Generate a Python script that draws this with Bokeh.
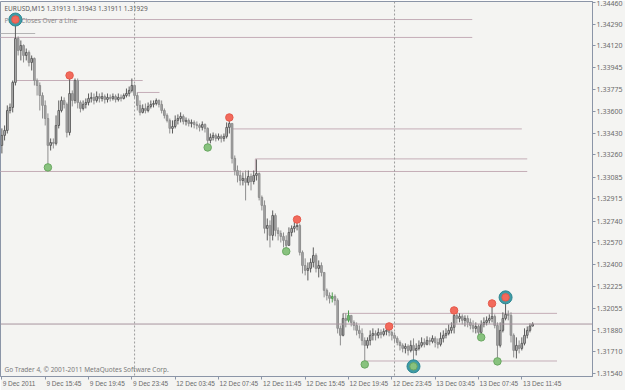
from bokeh.plotting import figure
from bokeh.models import (Range1d, FixedTicker, Span, Label, ColumnDataSource,
                          CustomJSTickFormatter, AllLabels)
from bokeh.embed import file_html
from bokeh.resources import INLINE

# ---------------- data (EURUSD M15, bar index 0 = 9 Dec 2011 11:45) ----------------
OPEN0 = 1.33335
CLOSE = [
    1.33414, 1.33453, 1.33610, 1.33634, 1.33831, 1.34177, 1.34083, 1.34122, 1.34043, 1.34067,
    1.33988, 1.34020, 1.33846, 1.33807, 1.33728, 1.33650, 1.33547, 1.33335, 1.33358, 1.33351,
    1.33492, 1.33610, 1.33689, 1.33658, 1.33437, 1.33744, 1.33689, 1.33846, 1.33673, 1.33626,
    1.33658, 1.33673, 1.33705, 1.33713, 1.33689, 1.33720, 1.33705, 1.33720, 1.33697, 1.33713,
    1.33705, 1.33720, 1.33697, 1.33713, 1.33705, 1.33728, 1.33744, 1.33768, 1.33807, 1.33728,
    1.33650, 1.33595, 1.33626, 1.33610, 1.33642, 1.33658, 1.33665, 1.33689, 1.33658, 1.33610,
    1.33571, 1.33532, 1.33469, 1.33484, 1.33532, 1.33547, 1.33563, 1.33524, 1.33532, 1.33508,
    1.33516, 1.33500, 1.33492, 1.33477, 1.33500, 1.33469, 1.33374, 1.33398, 1.33414, 1.33390,
    1.33406, 1.33390, 1.33406, 1.33477, 1.33508, 1.33233, 1.33138, 1.33099, 1.33059, 1.33075,
    1.33044, 1.33091, 1.33051, 1.33099, 1.33114, 1.32926, 1.32863, 1.32682, 1.32705, 1.32627,
    1.32784, 1.32666, 1.32642, 1.32619, 1.32587, 1.32548, 1.32650, 1.32682, 1.32697, 1.32705,
    1.32493, 1.32390, 1.32351, 1.32367, 1.32414, 1.32469, 1.32367, 1.32390, 1.32335, 1.32194,
    1.32154, 1.32131, 1.32146, 1.32115, 1.31895, 1.31840, 1.31973, 1.31958, 1.31997, 1.31942,
    1.31918, 1.31879, 1.31855, 1.31800, 1.31761, 1.31800, 1.31840, 1.31855, 1.31840, 1.31863,
    1.31847, 1.31871, 1.31879, 1.31863, 1.31840, 1.31816, 1.31784, 1.31761, 1.31737, 1.31753,
    1.31721, 1.31761, 1.31721, 1.31737, 1.31761, 1.31784, 1.31769, 1.31800, 1.31792, 1.31816,
    1.31784, 1.31769, 1.31816, 1.31840, 1.31855, 1.31879, 1.31903, 1.31997, 1.31973, 1.31989,
    1.31958, 1.31973, 1.31942, 1.31918, 1.31895, 1.31910, 1.31863, 1.31926, 1.31942, 1.31958,
    1.31973, 1.31989, 1.31918, 1.31761, 1.31879, 1.31973, 1.32005, 1.31997, 1.31840, 1.31721,
    1.31761, 1.31737, 1.31777, 1.31840, 1.31879, 1.31913, 1.31929,
]
HIGH = [
    1.33469, 1.33492, 1.33650, 1.33665, 1.33846, 1.34326, 1.34193, 1.34161, 1.34130, 1.34098,
    1.34083, 1.34043, 1.34027, 1.33862, 1.33831, 1.33752, 1.33689, 1.33587, 1.33390, 1.33390,
    1.33571, 1.33689, 1.33720, 1.33713, 1.33673, 1.33886, 1.33768, 1.33862, 1.33862, 1.33689,
    1.33689, 1.33705, 1.33744, 1.33752, 1.33744, 1.33760, 1.33744, 1.33752, 1.33736, 1.33744,
    1.33736, 1.33744, 1.33736, 1.33744, 1.33736, 1.33744, 1.33783, 1.33799, 1.33862, 1.33815,
    1.33752, 1.33689, 1.33658, 1.33665, 1.33673, 1.33689, 1.33689, 1.33705, 1.33697, 1.33689,
    1.33626, 1.33587, 1.33547, 1.33532, 1.33571, 1.33579, 1.33595, 1.33579, 1.33555, 1.33547,
    1.33539, 1.33532, 1.33524, 1.33508, 1.33524, 1.33508, 1.33477, 1.33429, 1.33437, 1.33429,
    1.33429, 1.33421, 1.33429, 1.33516, 1.33555, 1.33508, 1.33256, 1.33177, 1.33138, 1.33122,
    1.33138, 1.33138, 1.33114, 1.33138, 1.33225, 1.33122, 1.32941, 1.32902, 1.32760, 1.32745,
    1.32823, 1.32800, 1.32690, 1.32666, 1.32650, 1.32627, 1.32690, 1.32705, 1.32737, 1.32752,
    1.32721, 1.32508, 1.32446, 1.32414, 1.32446, 1.32532, 1.32485, 1.32430, 1.32414, 1.32335,
    1.32209, 1.32178, 1.32178, 1.32162, 1.32131, 1.31918, 1.32013, 1.32013, 1.32036, 1.31997,
    1.31958, 1.31942, 1.31918, 1.31895, 1.31824, 1.31824, 1.31879, 1.31895, 1.31879, 1.31895,
    1.31887, 1.31895, 1.31903, 1.31910, 1.31879, 1.31863, 1.31832, 1.31800, 1.31777, 1.31777,
    1.31769, 1.31800, 1.31816, 1.31777, 1.31800, 1.31824, 1.31816, 1.31832, 1.31824, 1.31840,
    1.31832, 1.31816, 1.31863, 1.31879, 1.31895, 1.31926, 1.31942, 1.32036, 1.32013, 1.32013,
    1.32005, 1.31997, 1.31997, 1.31973, 1.31958, 1.31942, 1.31926, 1.31958, 1.31981, 1.31989,
    1.32005, 1.32091, 1.32005, 1.31942, 1.31942, 1.32021, 1.32139, 1.32036, 1.32021, 1.31855,
    1.31824, 1.31800, 1.31824, 1.31895, 1.31910, 1.31934, 1.31943,
]
LOW = [
    1.33272, 1.33374, 1.33429, 1.33587, 1.33595, 1.33807, 1.34043, 1.34004, 1.33988, 1.34004,
    1.33957, 1.33925, 1.33807, 1.33728, 1.33610, 1.33547, 1.33492, 1.33162, 1.33295, 1.33311,
    1.33335, 1.33469, 1.33595, 1.33626, 1.33398, 1.33414, 1.33642, 1.33665, 1.33626, 1.33595,
    1.33610, 1.33626, 1.33650, 1.33673, 1.33658, 1.33673, 1.33673, 1.33681, 1.33665, 1.33673,
    1.33681, 1.33689, 1.33673, 1.33681, 1.33681, 1.33697, 1.33713, 1.33720, 1.33752, 1.33705,
    1.33610, 1.33571, 1.33587, 1.33587, 1.33595, 1.33626, 1.33634, 1.33650, 1.33634, 1.33587,
    1.33547, 1.33516, 1.33429, 1.33429, 1.33469, 1.33500, 1.33516, 1.33500, 1.33492, 1.33484,
    1.33477, 1.33469, 1.33461, 1.33445, 1.33453, 1.33437, 1.33319, 1.33351, 1.33374, 1.33366,
    1.33374, 1.33358, 1.33366, 1.33390, 1.33429, 1.33193, 1.33099, 1.33044, 1.33020, 1.33020,
    1.32902, 1.33020, 1.32981, 1.33028, 1.33059, 1.32902, 1.32823, 1.32642, 1.32587, 1.32532,
    1.32587, 1.32619, 1.32587, 1.32571, 1.32532, 1.32501, 1.32548, 1.32619, 1.32650, 1.32666,
    1.32469, 1.32327, 1.32312, 1.32272, 1.32335, 1.32375, 1.32335, 1.32296, 1.32304, 1.32139,
    1.32115, 1.32091, 1.32099, 1.32076, 1.31855, 1.31761, 1.31832, 1.31903, 1.31942, 1.31910,
    1.31879, 1.31840, 1.31816, 1.31761, 1.31611, 1.31737, 1.31761, 1.31800, 1.31800, 1.31816,
    1.31816, 1.31832, 1.31840, 1.31832, 1.31800, 1.31784, 1.31761, 1.31721, 1.31706, 1.31698,
    1.31682, 1.31706, 1.31596, 1.31682, 1.31721, 1.31745, 1.31745, 1.31761, 1.31761, 1.31777,
    1.31745, 1.31737, 1.31753, 1.31784, 1.31816, 1.31840, 1.31855, 1.31855, 1.31934, 1.31942,
    1.31926, 1.31910, 1.31903, 1.31887, 1.31863, 1.31855, 1.31847, 1.31824, 1.31903, 1.31918,
    1.31934, 1.31942, 1.31895, 1.31635, 1.31745, 1.31863, 1.31958, 1.31958, 1.31784, 1.31666,
    1.31658, 1.31698, 1.31721, 1.31761, 1.31816, 1.31863, 1.31911,
]
LAST_PRICE = 1.31929

# fractal-style markers (bar indices)
HIGH_MARK_IDX = [5, 25, 84, 109, 143, 167, 181, 186]
LOW_MARK_IDX = [17, 76, 105, 134, 152, 177, 183]
BIG_HIGH_IDX = [5, 186]
BIG_LOW_IDX = [152]
GREEN_BAR_IDX = [122, 128]

# horizontal level lines: price, first bar, last bar
LEVEL_PRICE = [1.34326, 1.34185, 1.33846, 1.33752, 1.33465, 1.33229, 1.33130, 1.32013, 1.31638]
LEVEL_FROM = [6, -1, 5, 50, 84.6, 93.6, -1, 126, 134]
LEVEL_TO = [173.7, 173.7, 52, 58.2, 192, 194, 194, 205, 205]
SHORT_LEVEL = (1.34216, -1, 12.3)
CONNECTOR = (93.6, 1.33229, 1.33130)

DAY_SEPARATORS = [49, 145]

Y_TICKS = [1.34460, 1.34290, 1.34120, 1.33945, 1.33775, 1.33600, 1.33430, 1.33260, 1.33085,
           1.32915, 1.32740, 1.32570, 1.32400, 1.32225, 1.32055, 1.31880, 1.31710, 1.31540]
X_TICK_IDX = [0, 16, 32, 48, 64, 80, 96, 112, 128, 144, 160, 176, 192]
X_TICK_LABELS = ["9 Dec 2011", "9 Dec 15:45", "9 Dec 19:45", "9 Dec 23:45", "12 Dec 03:45",
                 "12 Dec 07:45", "12 Dec 11:45", "12 Dec 15:45", "12 Dec 19:45", "12 Dec 23:45",
                 "13 Dec 03:45", "13 Dec 07:45", "13 Dec 11:45"]

# ---------------- figure ----------------
BG = "#f4f4f2"
FONT = "Noto Sans"
DATE_FONT = "Liberation Sans"
AXIS_COL = "#8b95a7"
TXT = "#6a6a6a"

W, H = 625, 390
FRAME_W = 596
X_LO, X_HI = -0.51, 218.1
Y_LO, Y_HI = 1.31516, 1.34468

p = figure(width=W, height=H, x_range=Range1d(X_LO, X_HI), y_range=Range1d(Y_LO, Y_HI),
           output_backend="svg", toolbar_location=None, y_axis_location="right",
           min_border_left=0, min_border_right=0, min_border_top=1, min_border_bottom=14,
           background_fill_color=BG, border_fill_color=BG, outline_line_color=AXIS_COL)
p.xgrid.visible = False
p.ygrid.visible = False

ya = p.yaxis[0]
ya.ticker = FixedTicker(ticks=Y_TICKS)
ya.formatter = CustomJSTickFormatter(code="return tick.toFixed(5);")
ya.major_label_policy = AllLabels()
ya.major_tick_out = 3
ya.major_tick_in = 0
ya.minor_tick_line_color = None
ya.major_label_standoff = 1
ya.major_label_text_font = FONT
ya.major_label_text_font_size = "7px"
ya.major_label_text_color = TXT
ya.axis_line_color = AXIS_COL
ya.major_tick_line_color = AXIS_COL

# time axis: the tick marks sit at the bars (minor ticks); MT4 writes each date
# starting at its tick, so the labels (major ticks, no mark) are centred half their
# estimated width to the right of the bar
px_per_bar = FRAME_W / (X_HI - X_LO)
label_pos = [i + (len(t) * 3.25 / 2 + 1) / px_per_bar for i, t in zip(X_TICK_IDX, X_TICK_LABELS)]
xa = p.xaxis[0]
xa.ticker = FixedTicker(ticks=label_pos, minor_ticks=X_TICK_IDX)
xa.formatter = CustomJSTickFormatter(
    args=dict(pos=label_pos, labels=X_TICK_LABELS),
    code="for (let j = 0; j < pos.length; j++) {"
         " if (Math.abs(pos[j] - tick) < 1e-6) return labels[j]; }"
         " return '';")
xa.major_label_policy = AllLabels()
xa.major_tick_out = 0
xa.major_tick_in = 0
xa.major_tick_line_color = None
xa.minor_tick_out = 3
xa.minor_tick_in = 0
xa.minor_tick_line_color = AXIS_COL
xa.major_label_standoff = 0
xa.major_label_text_font = DATE_FONT
xa.major_label_text_font_size = "6.5px"
xa.major_label_text_color = TXT
xa.axis_line_color = AXIS_COL

# day separators
for d in DAY_SEPARATORS:
    p.add_layout(Span(location=d, dimension="height", line_color="#9c9c9c",
                      line_dash="2 2", line_width=1))

# level lines
p.segment(x0=LEVEL_FROM, y0=LEVEL_PRICE, x1=LEVEL_TO, y1=LEVEL_PRICE,
          line_color="#c4adb7", line_width=1)
p.segment(x0=[SHORT_LEVEL[1]], y0=[SHORT_LEVEL[0]], x1=[SHORT_LEVEL[2]], y1=[SHORT_LEVEL[0]],
          line_color="#b4b4b4", line_width=1)
p.segment(x0=[CONNECTOR[0]], y0=[CONNECTOR[1]], x1=[CONNECTOR[0]], y1=[CONNECTOR[2]],
          line_color="#c4adb7", line_width=1)
p.add_layout(Span(location=LAST_PRICE, dimension="width", line_color="#a8949e", line_width=1))

# candles
OPEN = [OPEN0] + CLOSE[:-1]
idx = list(range(len(CLOSE)))
up = [c >= o for o, c in zip(OPEN, CLOSE)]
fill = ["#d0d0d0" if u else "#a8a8a8" for u in up]
line = ["#5c5c5c" if u else "#8e8e8e" for u in up]
for g in GREEN_BAR_IDX:
    fill[g] = "#7cc07a"
    line[g] = "#4f9c4f"
src = ColumnDataSource(dict(x=idx, h=HIGH, l=LOW,
                            top=[max(o, c) for o, c in zip(OPEN, CLOSE)],
                            bot=[min(o, c) for o, c in zip(OPEN, CLOSE)],
                            fill=fill, line=line))
p.segment(x0="x", y0="h", x1="x", y1="l", line_color="line", line_width=1, source=src)
p.vbar(x="x", width=0.6, top="top", bottom="bot", fill_color="fill", line_color="line",
       line_width=1, source=src)

# texts inside the plot area
p.add_layout(Label(x=X_LO, y=Y_HI, x_offset=4, y_offset=-2, text_baseline="top",
                   text="EURUSD,M15  1.31913 1.31943 1.31911 1.31929",
                   text_font=FONT, text_font_size="6.5px", text_color="#5c5c5c"))
p.add_layout(Label(x=X_LO, y=Y_HI, x_offset=4, y_offset=-19, text_baseline="middle",
                   text="Price Closes Over a Line",
                   text_font=FONT, text_font_size="6.5px", text_color="#8a8a8a"))
p.add_layout(Label(x=X_LO, y=Y_LO, x_offset=4, y_offset=3, text_baseline="bottom",
                   text="Go Trader 4, \u00a9 2001-2011 MetaQuotes Software Corp.",
                   text_font=FONT, text_font_size="6.5px", text_color="#7a7a7a"))

# markers (drawn above texts)
p.scatter([i for i in BIG_HIGH_IDX] + BIG_LOW_IDX,
          [HIGH[i] for i in BIG_HIGH_IDX] + [LOW[i] for i in BIG_LOW_IDX],
          size=13, fill_color="#3f9ba6", line_color="#2e8792", level="overlay")
p.scatter(HIGH_MARK_IDX, [HIGH[i] for i in HIGH_MARK_IDX], size=7.5,
          fill_color="#f26a5c", line_color="#e55a4c", level="overlay")
p.scatter(LOW_MARK_IDX, [LOW[i] for i in LOW_MARK_IDX], size=7.5,
          fill_color="#88c27e", line_color="#6aa862", level="overlay")

open("out.html", "w").write(file_html(p, INLINE))
